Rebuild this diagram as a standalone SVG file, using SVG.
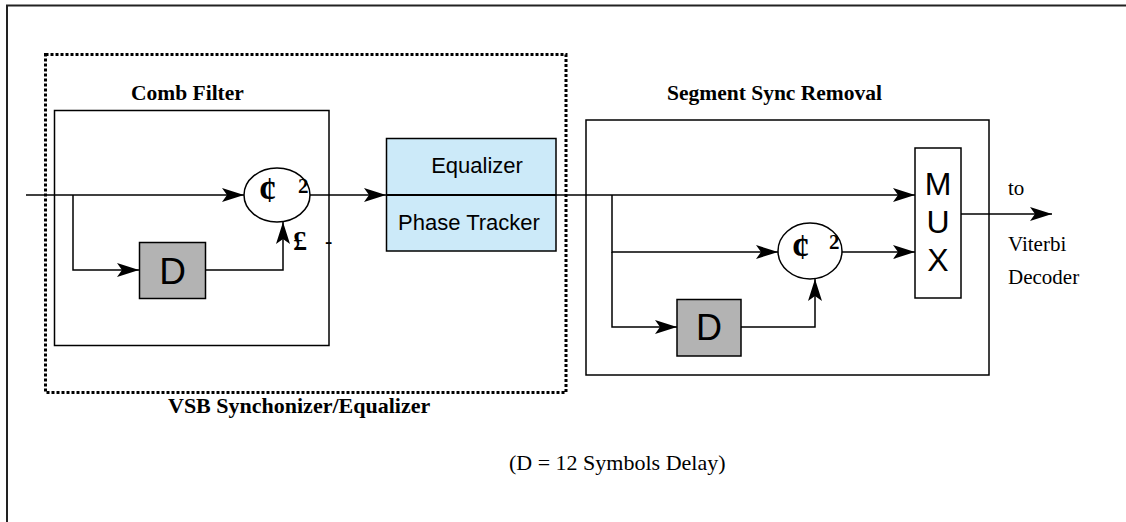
<svg xmlns="http://www.w3.org/2000/svg" width="1126" height="522" viewBox="0 0 1126 522">
<defs>
<marker id="ah" markerWidth="22" markerHeight="14" refX="22" refY="7" orient="auto" markerUnits="userSpaceOnUse">
<path d="M0,0 L22,7 L0,14 L5,7 Z" fill="#000"/>
</marker>
<style>
.ln{stroke:#000;stroke-width:1.5;fill:none}
.box{stroke:#000;stroke-width:1.5;fill:none}
.dbox{stroke:#000;stroke-width:1.5;fill:#b3b3b3}
.sum{stroke:#000;stroke-width:1.5;fill:#fff}
.tb{font-family:"Liberation Serif",serif;font-weight:bold;font-size:21.5px;fill:#000}
.tr{font-family:"Liberation Serif",serif;font-size:21px;fill:#000}
.ts{font-family:"Liberation Sans",Arial,sans-serif;fill:#000}
.sym{font-family:"Liberation Serif",serif;font-weight:bold;fill:#000}
</style>
</defs>
<rect x="7" y="5.5" width="1130" height="530" fill="none" stroke="#222" stroke-width="2"/>
<g id="vsb-sync-eq">
<rect x="45.5" y="54.5" width="520.5" height="338" fill="none" stroke="#000" stroke-width="3" stroke-dasharray="3,2"/>
<text class="tb" x="168" y="413" style="font-size:22px">VSB Synchonizer/Equalizer</text>
</g>
<g id="comb-filter">
<rect class="box" x="54.5" y="110.5" width="274.5" height="235"/>
<text class="tb" x="131" y="100">Comb Filter</text>
</g>
<g id="comb-delay">
<rect class="dbox" x="139.5" y="242.5" width="66" height="56"/>
<text class="ts" x="172.5" y="284" font-size="37" text-anchor="middle">D</text>
</g>
<g id="comb-sum">
<ellipse class="sum" cx="277" cy="195" rx="33" ry="27"/>
<text class="sym" x="259" y="202" font-size="35">¢</text>
<text class="sym" x="298" y="193" font-size="21">2</text>
<text class="sym" x="293" y="250" font-size="28">£</text>
<text class="sym" x="325" y="248" font-size="22">-</text>
</g>
<g id="equalizer">
<rect x="386.5" y="138.5" width="169.5" height="112.5" fill="#cceaf9" stroke="#000" stroke-width="1.5"/>
<line x1="386.5" y1="195" x2="556" y2="195" stroke="#000" stroke-width="2"/>
<text class="ts" x="477" y="173" font-size="22" text-anchor="middle">Equalizer</text>
<text class="ts" x="469" y="230" font-size="22" text-anchor="middle">Phase Tracker</text>
</g>
<g id="segment-sync-removal">
<rect class="box" x="586" y="120" width="403" height="255"/>
<text class="tb" x="667" y="100">Segment Sync Removal</text>
</g>
<g id="seg-delay">
<rect class="dbox" x="677" y="299.5" width="64" height="56.5"/>
<text class="ts" x="709" y="340" font-size="36" text-anchor="middle">D</text>
</g>
<g id="seg-sum">
<ellipse class="sum" cx="810" cy="251" rx="32" ry="28"/>
<text class="sym" x="792" y="259" font-size="35">¢</text>
<text class="sym" x="829" y="249" font-size="21">2</text>
</g>
<g id="mux">
<rect x="915" y="148" width="46" height="150" fill="#fff" stroke="#000" stroke-width="1.5"/>
<text class="ts" x="938" y="195" font-size="32" text-anchor="middle">M</text>
<text class="ts" x="938" y="233" font-size="32" text-anchor="middle">U</text>
<text class="ts" x="938" y="271" font-size="32" text-anchor="middle">X</text>
</g>
<g id="output-label">
<text class="tr" x="1008" y="195">to</text>
<text class="tr" x="1008" y="251">Viterbi</text>
<text class="tr" x="1008" y="284">Decoder</text>
</g>
<text class="tr" x="509" y="470" style="font-size:22px">(D = 12 Symbols Delay)</text>
<g id="connectors">
<line class="ln" x1="26" y1="195" x2="244" y2="195" marker-end="url(#ah)"/>
<polyline class="ln" points="73,195 73,270 139,270" marker-end="url(#ah)"/>
<polyline class="ln" points="205.5,270 283,270 283,222" marker-end="url(#ah)"/>
<line class="ln" x1="310" y1="195" x2="386" y2="195" marker-end="url(#ah)"/>
<line class="ln" x1="556" y1="195" x2="915" y2="195" stroke-width="2" marker-end="url(#ah)"/>
<polyline class="ln" points="612,195 612,252 778,252" marker-end="url(#ah)"/>
<polyline class="ln" points="612,252 612,327 677,327" marker-end="url(#ah)"/>
<polyline class="ln" points="741,327 815,327 815,279" marker-end="url(#ah)"/>
<line class="ln" x1="842" y1="252" x2="915" y2="252" marker-end="url(#ah)"/>
<line class="ln" x1="961" y1="214" x2="1052" y2="214" stroke-width="2" marker-end="url(#ah)"/>
</g>
</svg>
